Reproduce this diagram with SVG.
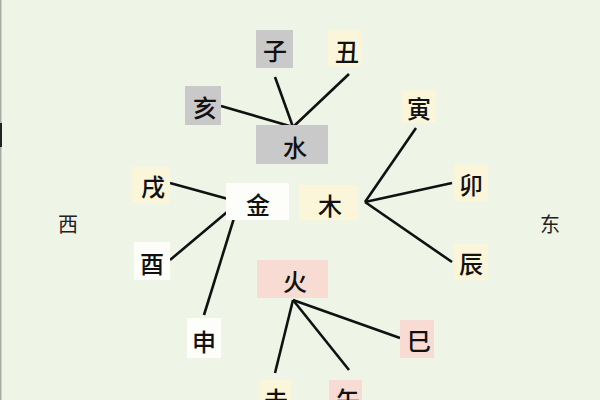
<svg xmlns="http://www.w3.org/2000/svg" width="600" height="400" viewBox="0 0 600 400">
<style>
.t{font-family:"Noto Sans CJK SC","Noto Sans CJK JP",sans-serif;font-size:24px;font-weight:500;fill:#111;text-anchor:middle;dominant-baseline:central}
.s{font-size:20px;font-weight:400;fill:#222}
.g{fill:#c9c9c9}
.y{fill:#fbf6da}
.p{fill:#f8dcd3}
.w{fill:#fdfdf9}
.ln{stroke:#111;stroke-width:2.6;stroke-linecap:butt;fill:none}
</style>
<rect x="0" y="0" width="600" height="400" fill="#eef5e7"/>
<rect x="0" y="0" width="1.5" height="400" fill="#a8aca4"/>
<rect x="0" y="123" width="2" height="24" fill="#222"/>
<g id="connectors">
<line class="ln" x1="221" y1="106" x2="293" y2="127"/>
<line class="ln" x1="275" y1="77" x2="293" y2="127"/>
<line class="ln" x1="349" y1="74" x2="293" y2="127"/>
<line class="ln" x1="416" y1="128" x2="365" y2="202"/>
<line class="ln" x1="452" y1="183" x2="365" y2="202"/>
<line class="ln" x1="452" y1="262" x2="365" y2="202"/>
<line class="ln" x1="170" y1="183" x2="239" y2="202"/>
<line class="ln" x1="170" y1="260" x2="239" y2="202"/>
<line class="ln" x1="204" y1="315" x2="239" y2="202"/>
<line class="ln" x1="293" y1="300" x2="400" y2="338"/>
<line class="ln" x1="293" y1="300" x2="275" y2="373"/>
<line class="ln" x1="293" y1="300" x2="349" y2="370"/>
</g>
<g id="n-zi"><rect class="g" x="256" y="30" width="37" height="38"/><text class="t" x="275" y="49">子</text></g>
<g id="n-chou"><rect class="y" x="328" y="30" width="34" height="36"/><text class="t" x="347" y="50">丑</text></g>
<g id="n-hai"><rect class="g" x="185" y="86" width="36" height="39"/><text class="t" x="205" y="106">亥</text></g>
<g id="n-shui"><rect class="g" x="256" y="125" width="72" height="39"/><text class="t" x="295" y="146">水</text></g>
<g id="n-yin"><rect class="y" x="402" y="90" width="34" height="33"/><text class="t" x="419" y="107">寅</text></g>
<g id="n-mao"><rect class="y" x="454" y="165" width="34" height="36"/><text class="t" x="471" y="183">卯</text></g>
<g id="n-chen"><rect class="y" x="454" y="244" width="34" height="36"/><text class="t" x="471" y="262">辰</text></g>
<g id="n-mu"><rect class="y" x="299" y="185" width="59" height="35"/><text class="t" x="330" y="204">木</text></g>
<g id="n-jin"><rect class="w" x="226" y="183" width="63" height="37"/><text class="t" x="258" y="203">金</text></g>
<g id="n-xu"><rect class="y" x="132" y="167" width="38" height="36"/><text class="t" x="153" y="185">戌</text></g>
<g id="n-you"><rect class="w" x="134" y="242" width="36" height="38"/><text class="t" x="152" y="262">酉</text></g>
<g id="n-shen"><rect class="w" x="187" y="318" width="34" height="40"/><text class="t" x="204" y="340">申</text></g>
<g id="n-huo"><rect class="p" x="257" y="260" width="71" height="38"/><text class="t" x="295" y="280">火</text></g>
<g id="n-si"><rect class="p" x="400" y="320" width="34" height="38"/><text class="t" x="419" y="339">巳</text></g>
<g id="n-wei"><rect class="y" x="260" y="380" width="31" height="20"/><text class="t" x="276" y="398">未</text></g>
<g id="n-wu"><rect class="p" x="329" y="380" width="33" height="20"/><text class="t" x="348" y="398">午</text></g>
<g id="n-xi"><text class="t s" x="68" y="223">西</text></g>
<g id="n-dong"><text class="t s" x="550" y="223">东</text></g>
</svg>
